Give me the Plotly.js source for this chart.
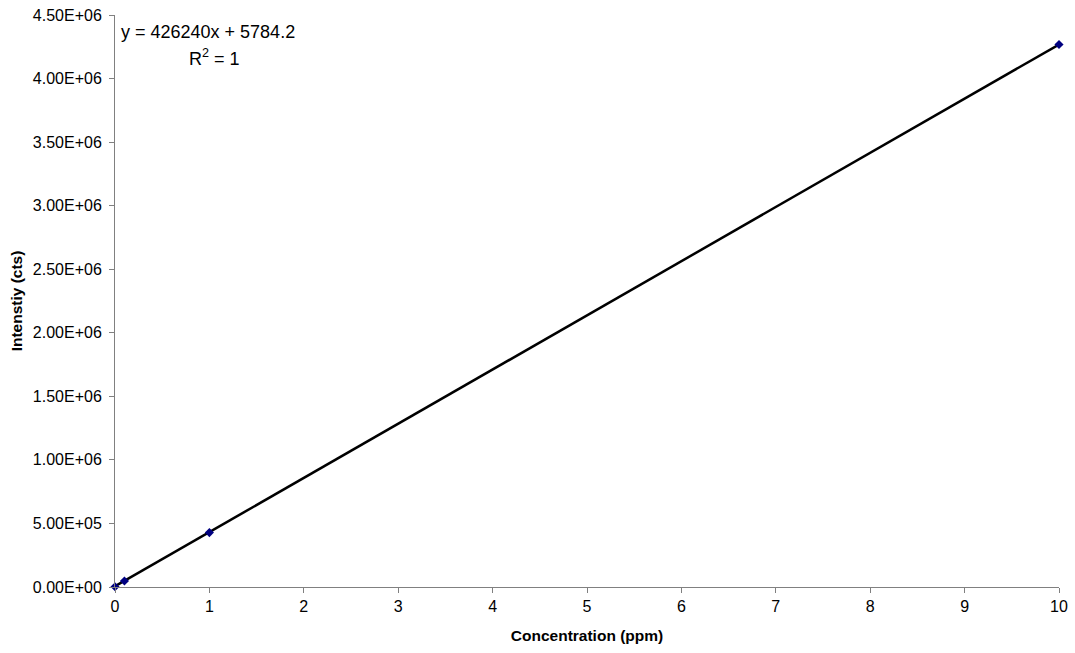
<!DOCTYPE html>
<html><head><meta charset="utf-8">
<script src="https://cdn.plot.ly/plotly-3.0.1.min.js"></script>
<style>body{margin:0;background:#fff}#c{width:1075px;height:653px}</style>
</head><body><div id="c"></div>
<script>
const concentration = [0, 0.1, 1, 10];
const intensity = [2000, 47500, 428000, 4268000];
const trendX = [0, 10];
const trendY = [5784.2, 4268184.2];
const yTicks = [0, 5e5, 1e6, 1.5e6, 2e6, 2.5e6, 3e6, 3.5e6, 4e6, 4.5e6];
const yTickText = ["0.00E+00","5.00E+05","1.00E+06","1.50E+06","2.00E+06","2.50E+06","3.00E+06","3.50E+06","4.00E+06","4.50E+06"];
const xTicks = [0,1,2,3,4,5,6,7,8,9,10];

const font = "Liberation Sans, Arial, sans-serif";
Plotly.newPlot('c', [
  {x: trendX, y: trendY, mode: 'lines', line: {color: '#000', width: 2.5}, showlegend: false, hoverinfo: 'skip', cliponaxis: false},
  {x: concentration, y: intensity, mode: 'markers', marker: {symbol: 'diamond', color: '#000080', size: 7}, showlegend: false, cliponaxis: false}
], {
  width: 1075, height: 653,
  margin: {l: 115, r: 16, t: 15, b: 66},
  paper_bgcolor: '#fff', plot_bgcolor: '#fff',
  font: {family: font, size: 16, color: '#000'},
  xaxis: {range: [0, 10], tickvals: xTicks, ticks: 'outside', ticklen: 5, tickcolor: '#808080',
          showline: true, linecolor: '#808080', linewidth: 1, showgrid: false, zeroline: false,
          tickfont: {size: 16}, title: {text: '<b>Concentration (ppm)</b>', font: {size: 15.5}, standoff: 15}},
  yaxis: {range: [0, 4.5e6], tickvals: yTicks, ticktext: yTickText, ticks: 'outside', ticklen: 5, tickcolor: '#808080',
          ticklabelstandoff: 4,
          showline: true, linecolor: '#808080', linewidth: 1, showgrid: false, zeroline: false,
          tickfont: {size: 16}, title: {text: '<b>Intenstiy (cts)</b>', font: {size: 15.5}, standoff: 6}},
  annotations: [
    {xref: 'paper', yref: 'paper', x: 0.004, y: 0.97, xanchor: 'left', yanchor: 'middle', showarrow: false,
     text: 'y = 426240x + 5784.2', font: {size: 18}},
    {xref: 'paper', yref: 'paper', x: 0.105, y: 0.925, xanchor: 'center', yanchor: 'middle', showarrow: false,
     text: 'R<sup>2</sup> = 1', font: {size: 18}}
  ]
}, {displayModeBar: false, staticPlot: true});
</script></body></html>
